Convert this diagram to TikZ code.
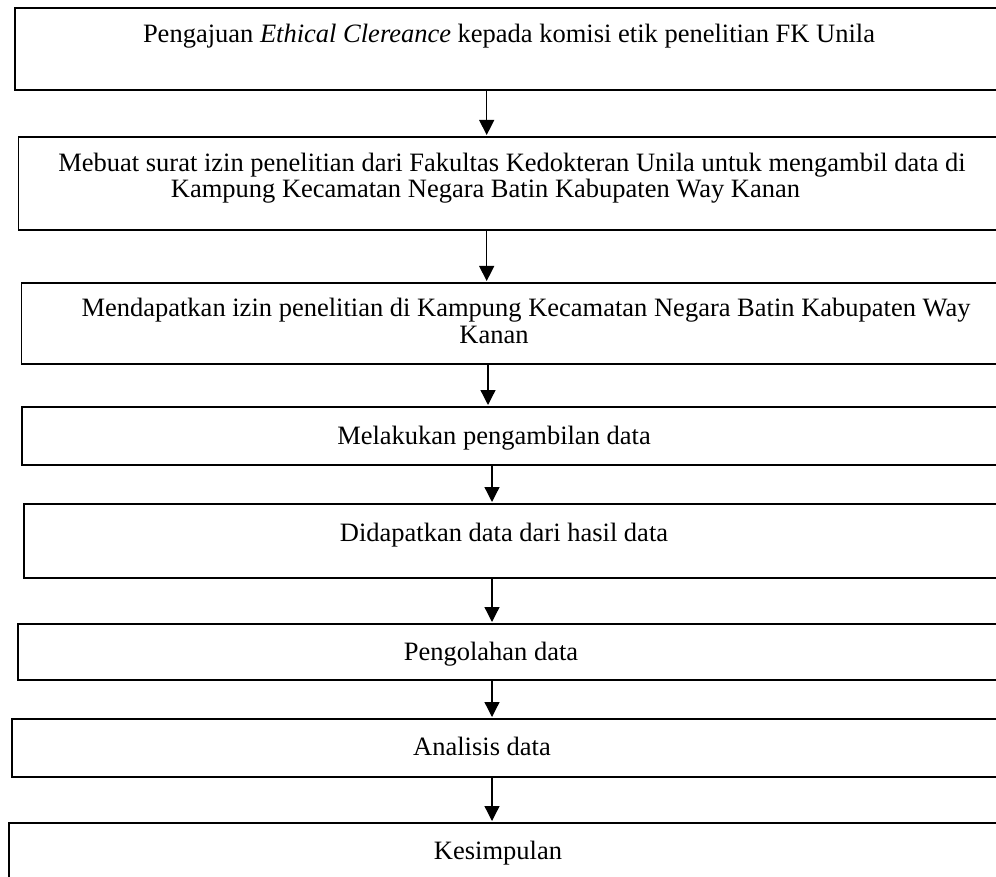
\documentclass[tikz,border=0pt]{standalone}
\usepackage{fontspec}
\setmainfont{Liberation Serif}
\usetikzlibrary{arrows.meta}
\begin{document}
\begin{tikzpicture}[x=1pt,y=1pt,
  stepbox/.style={draw, line width=1.8pt, inner sep=0pt, anchor=north west, minimum height=#1},
  lbl/.style={anchor=base, inner sep=0pt, font=\fontsize{26.5}{30}\selectfont},
  flowarr/.style={line width=1.3pt, -{Triangle[width=15pt,length=15pt]}, shorten >=1pt}]
\clip (0,0) rectangle (996,-877);
% boxes
\node[stepbox=82, minimum width=996] (b1) at (14,-7) {};
\node[stepbox=93, minimum width=993] (b2) at (17.5,-136) {};
\node[stepbox=81, minimum width=990] (b3) at (20.5,-282) {};
\node[stepbox=58, minimum width=989] (b4) at (21,-406) {};
\node[stepbox=74, minimum width=987] (b5) at (23,-503) {};
\node[stepbox=56, minimum width=993] (b6) at (17,-623) {};
\node[stepbox=58, minimum width=999] (b7) at (11,-718) {};
\node[stepbox=80, minimum width=1002] (b8) at (8,-822) {};
% texts
\node[lbl] (t1) at (509,-43) {Pengajuan \textit{Ethical Clereance} kepada komisi etik penelitian FK Unila};
\node[lbl] (t2a) at (512,-172) {Mebuat surat izin penelitian dari Fakultas Kedokteran Unila untuk mengambil data di};
\node[lbl] (t2b) at (485.5,-198) {Kampung Kecamatan Negara Batin Kabupaten Way Kanan};
\node[lbl] (t3a) at (526,-317) {Mendapatkan izin penelitian di Kampung Kecamatan Negara Batin Kabupaten Way};
\node[lbl] (t3b) at (494,-343) {Kanan};
\node[lbl] (t4) at (494,-444) {Melakukan pengambilan data};
\node[lbl] (t5) at (504,-541) {Didapatkan data dari hasil data};
\node[lbl] (t6) at (491,-660) {Pengolahan data};
\node[lbl] (t7) at (482,-755) {Analisis data};
\node[lbl] (t8) at (498,-859) {Kesimpulan};
% arrow columns
\coordinate (ax1) at (486.7,0);
\coordinate (ax2) at (486.7,0);
\coordinate (ax3) at (488,0);
\coordinate (ax4) at (492,0);
\draw[flowarr] (b1.south -| ax1) -- (b2.north -| ax1);
\draw[flowarr] (b2.south -| ax2) -- (b3.north -| ax2);
\draw[flowarr] (b3.south -| ax3) -- (b4.north -| ax3);
\draw[flowarr] (b4.south -| ax4) -- (b5.north -| ax4);
\draw[flowarr] (b5.south -| ax4) -- (b6.north -| ax4);
\draw[flowarr] (b6.south -| ax4) -- (b7.north -| ax4);
\draw[flowarr] (b7.south -| ax4) -- (b8.north -| ax4);
\end{tikzpicture}
\end{document}
